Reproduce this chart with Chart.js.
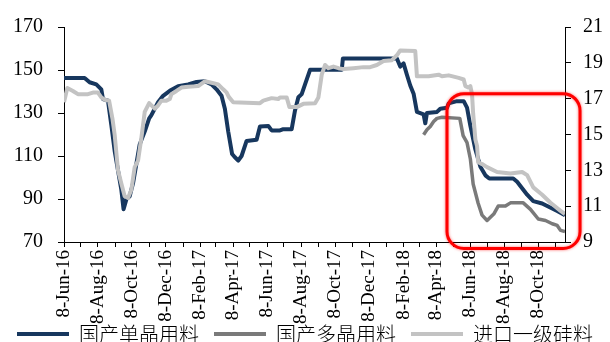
<!DOCTYPE html>
<html>
<head>
<meta charset="utf-8">
<script src="https://cdn.jsdelivr.net/npm/chart.js@4/dist/chart.umd.min.js"></script>
<style>
  html, body { margin: 0; padding: 0; background: #fff; }
</style>
</head>
<body>
<canvas id="priceChart" width="610" height="342"></canvas>
<script>
// 横轴以 2016-06-08 为第 0 天
var startDate = Date.UTC(2016, 5, 8);
var tickLabels = ['8-Jun-16', '8-Aug-16', '8-Oct-16', '8-Dec-16', '8-Feb-17', '8-Apr-17', '8-Jun-17',
  '8-Aug-17', '8-Oct-17', '8-Dec-17', '8-Feb-18', '8-Apr-18', '8-Jun-18', '8-Aug-18', '8-Oct-18'];

var seriesNames = ['国产单晶用料', '国产多晶用料', '进口一级硅料'];

// 国产单晶用料（左轴）
var monoDays = [0, 37, 46, 58, 67, 70, 79, 85, 91, 97, 103, 107, 112, 118, 124, 130, 136, 145, 153, 157,
  169, 178, 190, 205, 223, 238, 253, 265, 274, 283, 289, 295, 302, 307, 313, 319, 328, 346, 352, 367,
  373, 388, 394, 409, 415, 421, 427, 433, 442, 499, 501, 598, 604, 610, 616, 622, 628, 634, 646, 649,
  652, 670, 676, 688, 691, 706, 718, 724, 730, 739, 748, 757, 764, 807, 814, 823, 832, 843, 859, 868,
  886, 900];
var monoPrice = [146.3, 146.3, 144.3, 143.3, 141, 136.5, 135.7, 124.4, 112.4, 103.3, 94.3, 85.2, 89.8, 91.3, 97.3, 106.3, 115.4, 121.4, 127.5, 129,
  135, 138, 140.3, 142.5, 143.3, 144.4, 144.8, 143.3, 141, 138, 132, 121.4, 110.9, 109.4, 107.9, 110, 117, 117.6, 123.7, 124,
  121.9, 121.9, 122.5, 122.5, 131.2, 137.3, 138.8, 143.3, 150.1, 150.1, 155.4, 155.4, 151.6, 153.1, 147.8, 142.8, 139, 130.5, 129.4, 125.2,
  130, 130.5, 132, 132.4, 134.5, 135.5, 135.5, 132.5, 124, 113, 105, 101, 99.5, 99.5, 98, 95, 92, 89, 87.9, 86.7,
  84.4, 82.5];

// 国产多晶用料（左轴）
var polyDays = [646, 652, 658, 664, 670, 679, 711, 717, 724, 730, 735, 744, 751, 760, 772, 780, 793, 802, 825, 838,
  852, 865, 877, 886, 892, 900];
var polyPrice = [119.9, 122.2, 123.7, 126, 127.5, 128, 127.5, 119.5, 116.2, 108.6, 97, 88, 82.5, 80, 83, 86.7, 86.7, 88.2, 88.2, 85.2,
  80.7, 80, 78.5, 77.7, 75.4, 74.9];

// 进口一级硅料（右轴）
var importDays = [0, 6, 16, 25, 43, 52, 61, 67, 73, 81, 87, 91, 97, 103, 109, 115, 121, 127, 133, 139,
  145, 153, 163, 169, 175, 184, 190, 193, 202, 211, 223, 241, 253, 265, 277, 286, 292, 296, 304, 352,
  358, 373, 385, 388, 400, 405, 418, 430, 451, 457, 463, 469, 475, 484, 493, 502, 520, 538, 550, 562,
  574, 589, 598, 604, 631, 634, 655, 673, 679, 691, 709, 718, 721, 727, 730, 733, 735, 739, 742, 744,
  751, 760, 778, 802, 823, 832, 843, 859, 874, 892, 900];
var importPrice = [16.8, 17.6, 17.43, 17.25, 17.25, 17.34, 17.34, 17.07, 16.94, 16.89, 15.89, 14.99, 13.0, 12.27, 11.55, 11.46, 11.92, 13.18, 13.54, 14.81,
  16.26, 16.75, 16.44, 16.62, 16.89, 16.89, 16.98, 17.25, 17.43, 17.62, 17.67, 17.7, 17.97, 17.89, 17.8, 17.52, 17.35, 17.1, 16.8, 16.75,
  16.89, 17.03, 16.98, 17.07, 17.07, 16.53, 16.53, 16.71, 16.75, 17.07, 18.34, 18.88, 18.7, 18.79, 18.7, 18.65, 18.7, 18.76, 18.76, 18.88,
  19.1, 19.15, 19.42, 19.69, 19.66, 18.25, 18.25, 18.34, 18.25, 18.3, 18.16, 18.07, 17.7, 17.62, 17.7, 17.25, 16.17, 14.72, 14.36, 13.45,
  13.35, 13.18, 12.91, 12.82, 12.91, 12.73, 12.05, 11.64, 11.19, 10.74, 10.56];

// 红框标注的区间（横轴天数、左轴价格）
var highlightDays = [688, 927];
var highlightPrice = [139, 67];

function toPoints(days, values) {
  return days.map(function(d, i) { return { x: d, y: values[i] }; });
}

// 每月 8 日一个刻度，隔月显示日期
var monthTicks = [];
for (var m = 0; m < 30; m++) {
  var t = Date.UTC(2016, 5 + m, 8);
  monthTicks.push({ value: (t - startDate) / 86400000, label: m % 2 === 0 ? tickLabels[m / 2] : '' });
}

var serif = 'Liberation Serif, Times New Roman, serif';

// 图例下移；横轴标签区域放到画布底部，竖排日期不被裁掉
var legendOffset = {
  id: 'legendOffset',
  afterLayout: function(chart) {
    chart.legend.top += 12;
    chart.legend.bottom += 12;
    chart.scales.x.bottom = chart.height;
  }
};

// 红色圆角框
var highlightBox = {
  id: 'highlightBox',
  afterDatasetsDraw: function(chart) {
    var xs = chart.scales.x, ys = chart.scales.y, ctx = chart.ctx;
    var left = xs.getPixelForValue(highlightDays[0]);
    var right = xs.getPixelForValue(highlightDays[1]);
    var top = ys.getPixelForValue(highlightPrice[0]);
    var bottom = ys.getPixelForValue(highlightPrice[1]);
    ctx.save();
    ctx.strokeStyle = '#FF0000';
    ctx.lineWidth = 3;
    ctx.shadowColor = 'rgba(255, 0, 0, 0.6)';
    ctx.shadowBlur = 3;
    ctx.beginPath();
    ctx.roundRect(left, top, right - left, bottom - top, 17);
    ctx.stroke();
    ctx.restore();
  }
};

var ctx = document.getElementById('priceChart').getContext('2d');
var priceChart = new Chart(ctx, {
  type: 'line',
  data: {
    datasets: [{
      label: seriesNames[0],
      data: toPoints(monoDays, monoPrice),
      borderColor: '#17375E',
      backgroundColor: '#17375E',
      borderWidth: 4,
      yAxisID: 'y',
      order: 1
    }, {
      label: seriesNames[1],
      data: toPoints(polyDays, polyPrice),
      borderColor: '#7A7A7A',
      backgroundColor: '#7A7A7A',
      borderWidth: 3.5,
      yAxisID: 'y',
      order: 2
    }, {
      label: seriesNames[2],
      data: toPoints(importDays, importPrice),
      borderColor: '#C3C3C3',
      backgroundColor: '#C3C3C3',
      borderWidth: 4,
      yAxisID: 'y2',
      order: 0
    }]
  },
  options: {
    responsive: false,
    animation: false,
    parsing: false,
    elements: {
      point: { radius: 0 },
      line: { tension: 0, borderJoinStyle: 'round', fill: false }
    },
    layout: { padding: { top: 21, left: 0, right: 0, bottom: 0 } },
    plugins: {
      tooltip: { enabled: false },
      legend: {
        position: 'bottom',
        labels: {
          boxWidth: 52,
          boxHeight: 4,
          padding: 15,
          color: '#000',
          font: { family: 'Noto Sans CJK SC', size: 20, weight: 300 },
          sort: function(a, b) { return a.datasetIndex - b.datasetIndex; },
          generateLabels: function(chart) {
            var items = Chart.defaults.plugins.legend.labels.generateLabels(chart);
            items.forEach(function(it) { it.fillStyle = it.strokeStyle; it.lineWidth = 0; });
            return items;
          }
        }
      }
    },
    scales: {
      x: {
        type: 'linear',
        min: 0,
        max: 900,
        afterBuildTicks: function(scale) {
          scale.ticks = monthTicks.map(function(mt) { return { value: mt.value }; });
        },
        afterFit: function(scale) { scale.height = 55; },
        ticks: {
          autoSkip: false,
          minRotation: 90,
          maxRotation: 90,
          padding: 3,
          color: '#000',
          font: { family: serif, size: 19 },
          callback: function(value, index) { return monthTicks[index] ? monthTicks[index].label : ''; }
        },
        grid: { drawOnChartArea: false, tickLength: 5, color: '#000' },
        border: { color: '#000', width: 1 }
      },
      y: {
        position: 'left',
        min: 70,
        max: 170,
        afterFit: function(scale) { scale.width = 64; },
        ticks: { stepSize: 20, padding: 15, color: '#000', font: { family: serif, size: 20 } },
        grid: { drawOnChartArea: false, tickLength: 6, color: '#000' },
        border: { color: '#000', width: 1 }
      },
      y2: {
        position: 'right',
        min: 9,
        max: 21,
        afterFit: function(scale) { scale.width = 45; },
        ticks: { stepSize: 2, padding: 12, color: '#000', font: { family: serif, size: 20 } },
        grid: { drawOnChartArea: false, tickLength: 6, color: '#000' },
        border: { color: '#000', width: 1 }
      }
    }
  },
  plugins: [legendOffset, highlightBox]
});
</script>
</body>
</html>
